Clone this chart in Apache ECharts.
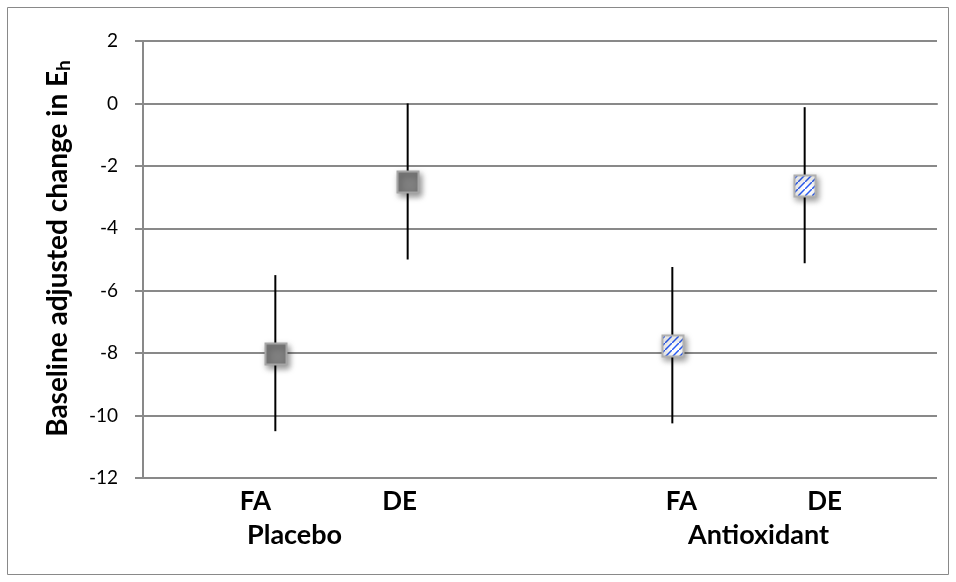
<!DOCTYPE html>
<html lang="en">
<head>
    <meta charset="UTF-8">
    <title>Baseline adjusted change</title>
    <script src="https://cdn.jsdelivr.net/npm/echarts@6/dist/echarts.min.js"></script>
    <style>
        html, body { margin: 0; padding: 0; background: #fff; }
        #chart { width: 956px; height: 582px; }
    </style>
</head>
<body>
    <div id="chart"></div>
    <script>
        // x slots: blank slots make the gap between the two groups
        var categories = ['', 'FA', 'DE', '', 'FA', 'DE', ''];
        var groupLabels = ['Placebo', 'Antioxidant'];
        var yTicks = { min: -12, max: 2, interval: 2 };

        var placeboSlots = [1, 2];
        var placeboMean = [-8.0, -2.5];
        var placeboLow = [-10.5, -5.0];
        var placeboHigh = [-5.5, 0.0];

        var antioxSlots = [4, 5];
        var antioxMean = [-7.75, -2.62];
        var antioxLow = [-10.25, -5.12];
        var antioxHigh = [-5.24, -0.12];

        function zip(slots, a, b) {
            return slots.map(function (s, i) { return b ? [s, a[i], b[i]] : [s, a[i]]; });
        }

        // striped fill for the antioxidant markers
        var pat = document.createElement('canvas');
        pat.width = 7; pat.height = 7;
        var ctx = pat.getContext('2d');
        ctx.fillStyle = '#fff';
        ctx.fillRect(0, 0, 7, 7);
        ctx.strokeStyle = '#2a5cf5';
        ctx.lineWidth = 1.5;
        ctx.beginPath();
        ctx.moveTo(-1, 8); ctx.lineTo(8, -1);
        ctx.stroke();

        function errorBar(params, api) {
            var x = api.value(0);
            var lo = api.coord([x, api.value(1)]);
            var hi = api.coord([x, api.value(2)]);
            return {
                type: 'line',
                shape: { x1: lo[0], y1: lo[1], x2: hi[0], y2: hi[1] },
                style: { stroke: '#000', lineWidth: 2 }
            };
        }

        function squareMarker(fill, border) {
            return function (params, api) {
                var p = api.coord([api.value(0), api.value(1)]);
                var s = 21;
                return {
                    type: 'rect',
                    shape: { x: Math.round(p[0] - s / 2) + 0.5, y: Math.round(p[1] - s / 2) + 0.5, width: s, height: s },
                    style: {
                        fill: fill, stroke: border, lineWidth: 2,
                        shadowBlur: 6, shadowColor: 'rgba(0,0,0,0.4)', shadowOffsetX: 2, shadowOffsetY: 3
                    }
                };
            };
        }

        // Excel puts the FA/DE labels a little off the marker positions
        var labelShift = [0, -20, -8, 0, 9, 20, 0];

        var font = 'Lato, "Open Sans", sans-serif';
        var chart = echarts.init(document.getElementById('chart'));
        chart.setOption({
            animation: false,
            grid: { left: 143, right: 19, top: 41, bottom: 104 },
            xAxis: {
                type: 'category',
                data: categories,
                boundaryGap: false,
                axisLine: { lineStyle: { color: '#898989', width: 2 } },
                axisTick: { show: false },
                axisLabel: {
                    interval: 0, margin: 11,
                    formatter: function (v, i) {
                        var s = labelShift[i];
                        return s < 0 ? '{l' + (-s) + '|' + v + '}' : '{r' + s + '|' + v + '}';
                    },
                    rich: {
                        l20: { padding: [0, 40, 0, 0] },
                        l8: { padding: [0, 16, 0, 0] },
                        r9: { padding: [0, 0, 0, 18] },
                        r20: { padding: [0, 0, 0, 40] },
                        r0: {}
                    },
                    fontFamily: font, fontSize: 26, fontWeight: 'bold', color: '#000'
                },
                splitLine: { show: false }
            },
            yAxis: {
                type: 'value',
                min: yTicks.min, max: yTicks.max, interval: yTicks.interval,
                name: '{t|Baseline adjusted change in E}{s|h}',
                nameLocation: 'middle',
                nameGap: 70,
                nameTextStyle: {
                    fontFamily: font, fontSize: 28, fontWeight: 'bold', color: '#000',
                    padding: [0, 0, 0, 22],
                    rich: {
                        t: { fontFamily: font, fontSize: 28, fontWeight: 'bold', color: '#000' },
                        s: { fontFamily: font, fontSize: 19, fontWeight: 'bold', color: '#000', verticalAlign: 'bottom', padding: [12, 0, 0, 0] }
                    }
                },
                axisLine: { show: true, lineStyle: { color: '#898989', width: 2 } },
                axisTick: { show: true, inside: false, length: 8, lineStyle: { color: '#898989', width: 2 } },
                axisLabel: { margin: 25, fontFamily: font, fontSize: 19, color: '#000' },
                splitLine: { lineStyle: { color: '#898989', width: 2 } }
            },
            graphic: [
                {
                    type: 'rect', silent: true,
                    shape: { x: 7.5, y: 7.5, width: 941, height: 567 },
                    style: { fill: 'none', stroke: '#898989', lineWidth: 1 }
                },
                {
                    type: 'text', left: 247, top: 522,
                    style: { text: groupLabels[0], font: 'bold 27px ' + font, fill: '#000' }
                },
                {
                    type: 'text', left: 688, top: 522,
                    style: { text: groupLabels[1], font: 'bold 27px ' + font, fill: '#000' }
                }
            ],
            series: [
                {
                    type: 'custom', renderItem: errorBar, z: 2,
                    encode: { x: 0, y: [1, 2] },
                    data: zip(placeboSlots, placeboLow, placeboHigh)
                },
                {
                    type: 'custom', renderItem: errorBar, z: 2,
                    encode: { x: 0, y: [1, 2] },
                    data: zip(antioxSlots, antioxLow, antioxHigh)
                },
                {
                    type: 'custom', z: 5,
                    renderItem: squareMarker('#7f7f7f', '#a6a6a6'),
                    encode: { x: 0, y: 1 },
                    data: zip(placeboSlots, placeboMean)
                },
                {
                    type: 'custom', z: 5,
                    renderItem: squareMarker({ image: pat, repeat: 'repeat' }, '#b0b0b0'),
                    encode: { x: 0, y: 1 },
                    data: zip(antioxSlots, antioxMean)
                }
            ]
        });
    </script>
</body>
</html>
